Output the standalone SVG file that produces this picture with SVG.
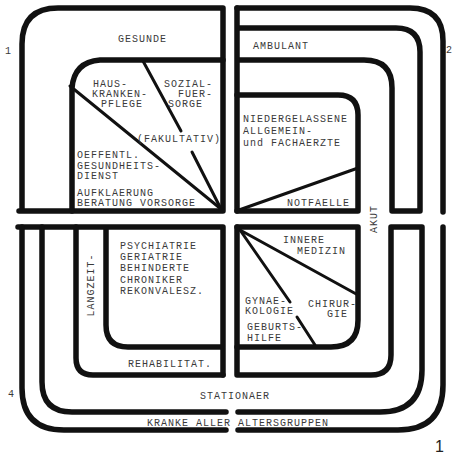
<svg xmlns="http://www.w3.org/2000/svg" width="455" height="454" viewBox="0 0 455 454">
<style>
.b{fill:none;stroke:#111;stroke-width:5.5;stroke-linecap:round;stroke-linejoin:round}
.d{fill:none;stroke:#111;stroke-width:3;stroke-linecap:round}
text{font-family:"Liberation Mono","DejaVu Sans Mono",monospace;font-size:10px;letter-spacing:1px;fill:#3a3a3a}
.n{font-size:10px;letter-spacing:0}
.big{font-family:"Liberation Sans",Arial,sans-serif;font-size:16px;letter-spacing:0;fill:#222}
</style>
<rect width="455" height="454" fill="#fff"/>
<g id="connectors">
<path class="d" d="M70,86 L221,209"/>
<path class="d" d="M143,61 L181,131"/>
<path class="d" d="M192,152 L221,209"/>
<path class="d" d="M239,210 L358,168"/>
<path class="d" d="M240,230 L358,295"/>
<path class="d" d="M240,230 L290,302"/>
<path class="d" d="M297,317 L315,345"/>
</g>
<g id="gesunde">
<path class="b" d="M19,211 H223 V8 H58 Q22,8 22,44 V211"/>
<text x="118" y="42">GESUNDE</text>
<text class="n" x="5" y="54">1</text>
</g>
<g id="gesunde-inner">
<path class="b" d="M72,211 V88 Q74,62 100,60 H223"/>
<text x="93" y="87">HAUS-</text>
<text x="92" y="97">KRANKEN-</text>
<text x="101" y="107">PFLEGE</text>
<text x="164" y="87">SOZIAL-</text>
<text x="178" y="97">FUER-</text>
<text x="168" y="107">SORGE</text>
<text x="137" y="142">(FAKULTATIV)</text>
<text x="77" y="158">OEFFENTL.</text>
<text x="77" y="168.5">GESUNDHEITS-</text>
<text x="77" y="179">DIENST</text>
<text x="77" y="196">AUFKLAERUNG</text>
<text x="77" y="206">BERATUNG VORSORGE</text>
</g>
<g id="ambulant-outer">
<path class="b" d="M237,8 H410 Q443,8 443,41 V212"/>
<text class="n" x="446" y="53">2</text>
</g>
<g id="ambulant">
<path class="b" d="M237,211 V8 M237,28 H396 Q420,28 420,52 V211 H392 V88 Q392,60 364,60 H237"/>
<text x="253" y="49">AMBULANT</text>
</g>
<g id="niedergelassene">
<path class="b" d="M237,95 H338 Q358,95 358,115 V211 H237"/>
<text x="243" y="122">NIEDERGELASSENE</text>
<text x="243" y="134">ALLGEMEIN-</text>
<text x="243" y="146">und FACHAERZTE</text>
<text x="287" y="206">NOTFAELLE</text>
</g>
<g id="akut">
<text transform="translate(377,219) rotate(-90)" text-anchor="middle">AKUT</text>
</g>
<g id="innere">
<path class="b" d="M237,227 H358 V320 Q358,347 331,347 H237"/>
<text x="283" y="243">INNERE</text>
<text x="297" y="254">MEDIZIN</text>
<text x="245" y="304">GYNAE-</text>
<text x="245" y="314">KOLOGIE</text>
<text x="247" y="330">GEBURTS-</text>
<text x="247" y="341">HILFE</text>
<text x="308" y="307">CHIRUR-</text>
<text x="327" y="317">GIE</text>
</g>
<g id="stationaer-right">
<path class="b" d="M237,227 V375 H371 Q391,375 391,355 V227 H422 V370 Q422,412 380,412 H238"/>
</g>
<g id="kranke-right">
<path class="b" d="M443,227 V385 Q443,430 398,430 H238"/>
<text class="big" x="435" y="452">1</text>
</g>
<g id="psychiatrie">
<path class="b" d="M18,227 H223 V375 M106,227 V325 Q106,347 128,347 H223"/>
<text x="120" y="249">PSYCHIATRIE</text>
<text x="120" y="260">GERIATRIE</text>
<text x="120" y="271">BEHINDERTE</text>
<text x="120" y="283">CHRONIKER</text>
<text x="120" y="294">REKONVALESZ.</text>
</g>
<g id="langzeit">
<path class="b" d="M76,227 V358 Q76,375 93,375 H223"/>
<text transform="translate(94,285) rotate(-90)" text-anchor="middle">LANGZEIT-</text>
<text x="128" y="367">REHABILITAT.</text>
</g>
<g id="stationaer">
<path class="b" d="M42,227 V382 Q42,412 72,412 H226"/>
<text x="200" y="399">STATIONAER</text>
</g>
<g id="kranke">
<path class="b" d="M22,227 V388 Q22,430 64,430 H226"/>
<text x="147" y="426">KRANKE ALLER ALTERSGRUPPEN</text>
<text class="n" x="8" y="397">4</text>
</g>
</svg>
